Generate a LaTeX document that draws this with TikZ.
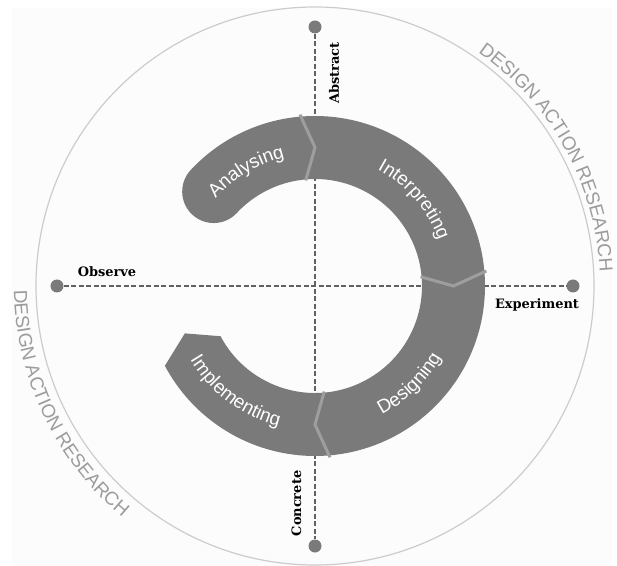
\documentclass[tikz,border=0pt]{standalone}
\usepackage{fontspec}
\usepackage{tikz}
\usetikzlibrary{decorations.text}
\usepackage{xcolor}

\newfontfamily\ringfont{Liberation Sans}
\newfontfamily\polefont{DejaVu Serif}
\definecolor{ringgray}{HTML}{7A7A7A}
\definecolor{outergray}{HTML}{9C9C9C}

\begin{document}
\begin{tikzpicture}[x=1bp,y=1bp,
  dot/.style={circle, fill=ringgray, inner sep=0pt, minimum size=13bp},
  axisline/.style={draw=black!62, line width=1.4bp, dash pattern=on 5bp off 2.5bp},
  pole/.style={font=\polefont\bfseries\fontsize{13}{15}\selectfont, inner sep=0pt},
  sep/.style={draw=black!38, line width=3bp}]
  \useasboundingbox (-315,-280) rectangle (302,286);
  \fill[black!1] (-303,-280) rectangle (297,278);
  \draw[black!20, line width=1.2bp] (0,0) circle[radius=279];

  % outer ring text
  \path[decorate, decoration={text along path, text align=center,
    text={|\ringfont\fontsize{19}{21}\selectfont\color{outergray}|DESIGN ACTION RESEARCH}}]
    (69:285) arc[start angle=69, end angle=-11, radius=285];
  \path[decorate, decoration={text along path, text align=center,
    text={|\ringfont\fontsize{19}{21}\selectfont\color{outergray}|DESIGN ACTION RESEARCH}}]
    (160:301) arc[start angle=160, end angle=251, radius=301];

  % poles and axes
  \node[dot] (top) at (0,259) {};
  \node[dot] (bottom) at (0,-260) {};
  \node[dot] (left) at (-258,0) {};
  \node[dot] (right) at (258,0) {};
  \draw[axisline] (top) -- (bottom);
  \draw[axisline] (left) -- (right);
  \node[pole, rotate=90] (abstract) at (19,213) {Abstract};
  \node[pole, rotate=90] (concrete) at (-18.5,-217.5) {Concrete};
  \node[pole] (observe) at (-208,14) {Observe};
  \node[pole] (experiment) at (222,-19) {Experiment};

  % the cycle band
  \fill[ringgray] (137:170) arc[start angle=137, end angle=-152, radius=170]
    -- (-160:138.5) -- (-152:107) arc[start angle=-152, end angle=137, radius=107]
    arc[start angle=317, end angle=137, radius=31.5] -- cycle;
  \foreach \a in {90,0,-90}
    \draw[sep] (\a+5:172) -- (\a:138.5) -- (\a+5:106);

  % phase names
  \path[decorate, decoration={text along path, text align=center,
    text={|\ringfont\fontsize{19}{21}\selectfont\color{white}|Analysing}}]
    (166:132) arc[start angle=166, end angle=76, radius=132];
  \path[decorate, decoration={text along path, text align=center,
    text={|\ringfont\fontsize{19}{21}\selectfont\color{white}|Interpreting}}]
    (86:132) arc[start angle=86, end angle=-4, radius=132];
  \path[decorate, decoration={text along path, text align=center,
    text={|\ringfont\fontsize{19}{21}\selectfont\color{white}|Designing}}]
    (-91:145) arc[start angle=-91, end angle=-1, radius=145];
  \path[decorate, decoration={text along path, text align=center,
    text={|\ringfont\fontsize{19}{21}\selectfont\color{white}|Implementing}}]
    (-172:145) arc[start angle=-172, end angle=-82, radius=145];
\end{tikzpicture}
\end{document}
